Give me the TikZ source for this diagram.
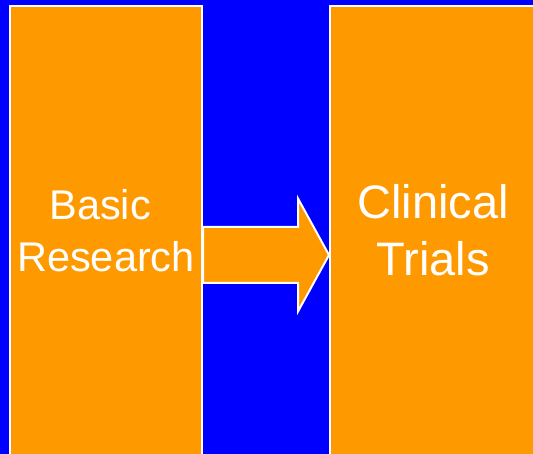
\documentclass[tikz,border=0pt]{standalone}
\usepackage{fontspec}
\setmainfont{Liberation Sans}
\usepackage{tikz}
\usetikzlibrary{positioning,calc}
\definecolor{slideblue}{RGB}{0,0,255}
\definecolor{slideorange}{RGB}{255,153,0}
\tikzset{
  % orange panels
  panel/.style={
    draw=white,
    line width=2pt,
    fill=slideorange,
    inner sep=0pt,
    minimum height=498pt
  },
  % text inside the panels
  paneltext/.style={
    text=white,
    align=center,
    inner sep=0pt
  },
  % the big block arrow
  bigarrow/.style={draw=white, line width=2pt, fill=slideorange, line join=miter},
}

\begin{document}
\begin{tikzpicture}[x=1pt, y=1pt]
        % Background
        \fill[slideblue] (0,0) rectangle (533,454);
        \useasboundingbox (0,0) rectangle (533,454);
        \clip (0,0) rectangle (533,454);

        % Panels
        \node[panel, minimum width=192pt] (basic) at (106,199) {};
        \node[panel, minimum width=210pt] (trials) at (435,199) {};

        % Arrow between the panels
        \draw[bigarrow] ([yshift=28]basic.east) -- ++(95,0) -- ++(0,28.5)
            -- (trials.west) -- ($([yshift=-56.5]basic.east)+(95,0)$)
            -- ++(0,28.5) -- ([yshift=-28]basic.east) -- cycle;

        % Labels
        \node[paneltext, font=\fontsize{41.5}{52}\selectfont] (basiclbl)
            at ([yshift=24]basic.center) {Basic\hspace*{.278em}\\Research};
        \node[paneltext, font=\fontsize{47}{57}\selectfont] (trialslbl)
            at ([xshift=-2,yshift=25]trials.center) {Clinical\\Trials};
    \end{tikzpicture}
\end{document}
